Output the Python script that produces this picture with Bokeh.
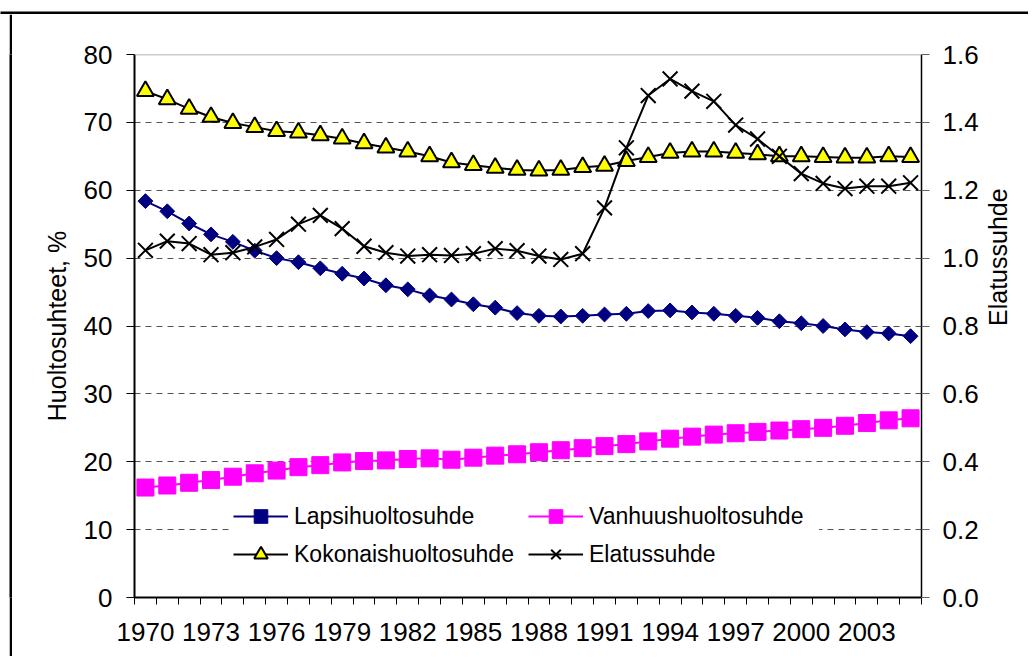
from bokeh.plotting import figure
from bokeh.models import (Range1d, LinearAxis, FixedTicker, PrintfTickFormatter,
                          Legend, LegendItem, Span, Spacer)
from bokeh.layouts import column, row
from bokeh.embed import file_html
from bokeh.resources import INLINE

years = list(range(1970, 2006))
lapsi = [58.4, 56.9, 55.1, 53.5, 52.4, 51.1, 50.0, 49.4, 48.5, 47.7, 47.0, 46.0,
         45.4, 44.5, 43.9, 43.2, 42.7, 41.9, 41.5, 41.4, 41.5, 41.7, 41.8, 42.2,
         42.3, 42.0, 41.8, 41.5, 41.2, 40.7, 40.4, 40.0, 39.5, 39.1, 38.9, 38.5]
vanhuus = [16.2, 16.5, 16.9, 17.3, 17.8, 18.3, 18.7, 19.2, 19.5, 19.9, 20.1, 20.2,
           20.4, 20.5, 20.3, 20.6, 20.9, 21.1, 21.4, 21.7, 22.0, 22.3, 22.6, 23.0,
           23.4, 23.7, 24.0, 24.2, 24.4, 24.6, 24.8, 25.0, 25.3, 25.7, 26.1, 26.4]
kokonais = [74.6, 73.4, 72.0, 70.8, 69.9, 69.3, 68.7, 68.5, 68.1, 67.6, 66.9, 66.3,
            65.7, 65.0, 64.1, 63.7, 63.3, 63.0, 62.9, 63.0, 63.4, 63.6, 64.3, 64.9,
            65.5, 65.7, 65.7, 65.5, 65.3, 65.0, 65.0, 64.9, 64.8, 64.8, 65.0, 64.9]
elatus = [1.023, 1.05, 1.043, 1.01, 1.016, 1.033, 1.055, 1.10, 1.126, 1.087, 1.035, 1.016,
          1.006, 1.01, 1.008, 1.013, 1.028, 1.022, 1.006, 0.996, 1.013, 1.148, 1.325, 1.479,
          1.528, 1.492, 1.462, 1.392, 1.351, 1.30, 1.249, 1.22, 1.205, 1.212, 1.212, 1.222]

x_tick_years = years[::3][:12]
x_tick_labels = [str(y) for y in x_tick_years]
left_ticks = [0, 10, 20, 30, 40, 50, 60, 70, 80]
right_ticks = [0.0, 0.2, 0.4, 0.6, 0.8, 1.0, 1.2, 1.4, 1.6]

names = ["Lapsihuoltosuhde", "Vanhuushuoltosuhde", "Kokonaishuoltosuhde", "Elatussuhde"]

FONT = "Liberation Sans"

p = figure(width=1016, height=642, output_backend="svg", toolbar_location=None,
           title=None,
           x_range=Range1d(years[0] - 0.5, years[-1] + 0.5),
           y_range=Range1d(left_ticks[0], left_ticks[-1]),
           min_border_left=122, min_border_right=106, min_border_top=40,
           min_border_bottom=59)
p.extra_y_ranges = {"elat": Range1d(right_ticks[0], right_ticks[-1])}
p.outline_line_color = None
p.background_fill_color = "white"
p.border_fill_color = "white"

# grid
p.xgrid.visible = False
p.ygrid.ticker = FixedTicker(ticks=left_ticks[1:-1])
p.ygrid.grid_line_color = "#555555"
p.ygrid.grid_line_dash = "6 5"
p.ygrid.grid_line_width = 1
p.add_layout(Span(location=left_ticks[-1], dimension="width", line_color="#999999",
                  line_width=1.5))

# x axis
xa = p.xaxis[0]
xa.ticker = FixedTicker(ticks=x_tick_years,
                        minor_ticks=[y - 0.5 for y in years] + [years[-1] + 0.5])
xa.major_label_overrides = {y: l for y, l in zip(x_tick_years, x_tick_labels)}
xa.major_tick_line_color = None
xa.minor_tick_line_color = "black"
xa.minor_tick_line_width = 1
xa.minor_tick_out = 7
xa.minor_tick_in = 0
xa.axis_line_width = 2
xa.axis_line_color = "black"
xa.major_label_text_font = FONT
xa.major_label_text_font_size = "26px"
xa.major_label_text_color = "black"
xa.major_label_standoff = 18

# left axis
ya = p.yaxis[0]
ya.ticker = FixedTicker(ticks=left_ticks)
ya.minor_tick_line_color = None
ya.major_tick_out = 8
ya.major_tick_in = 0
ya.major_tick_line_color = "black"
ya.axis_line_width = 2
ya.axis_line_color = "black"
ya.major_label_text_font = FONT
ya.major_label_text_font_size = "26px"
ya.major_label_text_color = "black"
ya.major_label_standoff = 14
ya.axis_label = "Huoltosuhteet, %"
ya.axis_label_text_font = FONT
ya.axis_label_text_font_size = "25px"
ya.axis_label_text_font_style = "normal"
ya.axis_label_text_color = "black"
ya.axis_label_standoff = 10

# right axis
ra = LinearAxis(y_range_name="elat", ticker=FixedTicker(ticks=right_ticks),
                formatter=PrintfTickFormatter(format="%.1f"))
ra.minor_tick_line_color = None
ra.major_tick_out = 8
ra.major_tick_in = 0
ra.major_tick_line_color = "#666666"
ra.axis_line_width = 1.5
ra.axis_line_color = "black"
ra.major_label_text_font = FONT
ra.major_label_text_font_size = "26px"
ra.major_label_text_color = "black"
ra.major_label_standoff = 13
ra.axis_label = "Elatussuhde"
ra.axis_label_text_font = FONT
ra.axis_label_text_font_size = "25px"
ra.axis_label_text_font_style = "normal"
ra.axis_label_text_color = "black"
ra.axis_label_standoff = 16
ra.axis_label_orientation = 1.5707963267948966
p.add_layout(ra, "right")

# series
l1 = p.line(years, lapsi, line_color="#000080", line_width=2)
m1 = p.scatter(years, lapsi, marker="square", angle=0.785398, size=10.5,
               fill_color="#000080", line_color="#000080", line_width=1)
l2 = p.line(years, vanhuus, line_color="#FF00FF", line_width=2)
m2 = p.scatter(years, vanhuus, marker="square", size=17,
               fill_color="#FF00FF", line_color="#FF00FF", line_width=1)
l3 = p.line(years, kokonais, line_color="black", line_width=2)
m3 = p.scatter(years, kokonais, marker="triangle", size=17,
               fill_color="#FFFF00", line_color="black", line_width=2)
l4 = p.line(years, elatus, line_color="black", line_width=2, y_range_name="elat")
m4 = p.scatter(years, elatus, marker="x", size=21, line_color="black",
               line_width=2, y_range_name="elat")

legend = Legend(items=[LegendItem(label=names[0], renderers=[l1, m1]),
                       LegendItem(label=names[1], renderers=[l2, m2]),
                       LegendItem(label=names[2], renderers=[l3, m3]),
                       LegendItem(label=names[3], renderers=[l4, m4])],
                location=(99, 26), orientation="horizontal", ncols=2)
legend.glyph_width = 55
legend.glyph_height = 34
legend.label_height = 34
legend.label_width = 230
legend.label_standoff = 6
legend.spacing = 4
legend.padding = 10
legend.margin = 0
legend.border_line_color = None
legend.background_fill_color = "white"
legend.background_fill_alpha = 1.0
legend.label_text_font = FONT
legend.label_text_font_size = "23px"
legend.label_text_color = "black"
p.add_layout(legend, "center")


def bar(w, h, top=0, border_fill="white"):
    b = figure(width=w, height=h, output_backend="svg", toolbar_location=None,
               title=None, x_axis_location=None, y_axis_location=None,
               min_border=0, min_border_left=0, min_border_right=0,
               min_border_top=top, min_border_bottom=0,
               background_fill_color="black", border_fill_color=border_fill,
               outline_line_color=None, x_range=Range1d(0, 1), y_range=Range1d(0, 1))
    b.grid.visible = False
    return b


# outer chart frame: left and top edges (the rest lies outside the window)
top_bar = bar(1028, 14, top=11)
left_bar = bar(3, 642, border_fill="black")

layout = column(top_bar, row(Spacer(width=9, height=642), left_bar, p))

open("out.html", "w").write(file_html(layout, INLINE))
